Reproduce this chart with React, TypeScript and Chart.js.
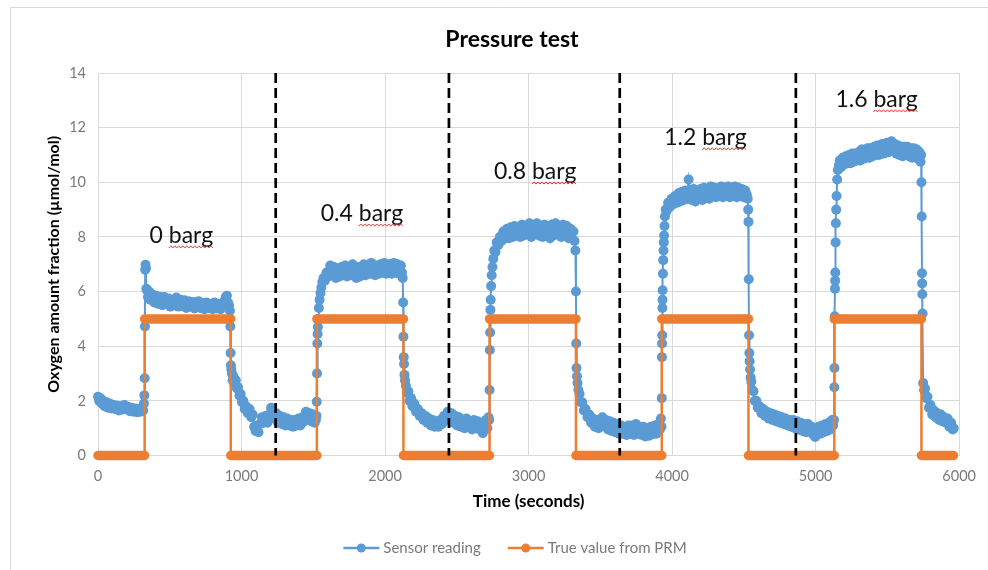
import React, { useEffect, useRef } from 'react';
import { Chart, registerables } from 'chart.js';

Chart.register(...registerables);

const chartTitle = 'Pressure test';
const xAxisTitle = 'Time (seconds)';
const yAxisTitle = 'Oxygen amount fraction (µmol/mol)';
const seriesNames = ['Sensor reading', 'True value from PRM'];
const xMin = 0, xMax = 6000, xStep = 1000;
const yMin = 0, yMax = 14, yStep = 2;

// True value from PRM (step corners: time, value)
const prmTimes = [0, 325, 325, 925, 925, 1525, 1525, 2128, 2128, 2728, 2728, 3330, 3330, 3928, 3928, 4532, 4532, 5130, 5130, 5737, 5737, 5960];
const prmValues = [0, 0, 5, 5, 0, 0, 5, 5, 0, 0, 5, 5, 0, 0, 5, 5, 0, 0, 5, 5, 0, 0];

// Pressure-change markers (time, seconds)
const dividerTimes = [1238, 2445, 3635, 4862];

// Annotations: text, time at left edge, level at baseline
const annotationTexts = ['0 barg', '0.4 barg', '0.8 barg', '1.2 barg', '1.6 barg'];
const annotationTimes = [359, 1552, 2759, 3945, 5138];
const annotationLevels = [7.78, 8.58, 10.12, 11.37, 12.76];

// Sensor reading [time, value]
const sensorLow0 = [[0,2.15],[8,2.0],[16,2.1],[26,1.9],[36,2.0],[46,1.8],[58,1.95],[70,1.75],[82,1.9],[95,1.72],[108,1.85],[120,1.7],[132,1.82],[145,1.65],[158,1.8],[170,1.68],[183,1.85],[196,1.7],[209,1.78],[222,1.62],[235,1.75],[248,1.6],[261,1.72],[274,1.58],[287,1.7],[298,1.6],[308,1.75],[315,1.65],[320,1.9],[323,2.2],[325,2.83]];
const sensorHigh0 = [[327,4.72],[329,6.8],[331,6.98],[334,6.85],[337,6.1],[341,6.05],[348,5.8],[356,6.0],[365,5.7],[378,5.9],[392,5.6],[406,5.85],[420,5.55],[434,5.8],[448,5.5],[462,5.8],[476,5.55],[490,5.75],[504,5.45],[518,5.7],[532,5.5],[546,5.78],[560,5.45],[574,5.7],[588,5.48],[602,5.68],[616,5.4],[630,5.65],[644,5.45],[658,5.62],[672,5.38],[686,5.6],[700,5.65],[714,5.4],[728,5.58],[742,5.35],[756,5.6],[770,5.4],[784,5.55],[798,5.35],[812,5.6],[826,5.38],[840,5.55],[854,5.35],[868,5.5],[880,5.65],[890,5.8],[898,5.85],[906,5.6],[913,5.5],[919,5.3]];
const sensorLow1 = [[922,4.72],[924,3.75],[926,3.3],[929,3.15],[933,3.0],[938,2.75],[944,2.9],[952,2.6],[960,2.75],[968,2.45],[976,2.5],[985,2.2],[994,2.25],[1003,1.95],[1012,2.0],[1022,1.7],[1032,1.8],[1044,1.55],[1056,1.7],[1068,1.4],[1078,1.5],[1088,1.05],[1098,0.9],[1108,1.1],[1118,0.85],[1130,1.15],[1142,1.4],[1155,1.2],[1168,1.45],[1180,1.2],[1193,1.5],[1206,1.75],[1215,1.55],[1228,1.35],[1241,1.55],[1254,1.2],[1267,1.45],[1280,1.15],[1293,1.4],[1306,1.1],[1319,1.35],[1332,1.1],[1345,1.3],[1358,1.05],[1371,1.3],[1384,1.1],[1397,1.35],[1410,1.1],[1423,1.4],[1436,1.25],[1449,1.6],[1462,1.3],[1475,1.55],[1488,1.25],[1500,1.5],[1510,1.2],[1518,1.3],[1522,1.45]];
const sensorHigh1 = [[1524,1.97],[1526,3.0],[1528,4.1],[1530,4.45],[1532,4.7],[1535,5.0],[1539,5.4],[1544,5.7],[1550,5.95],[1556,6.15],[1563,6.35],[1571,6.5],[1580,6.4],[1592,6.7],[1605,6.55],[1618,6.95],[1631,6.6],[1644,6.9],[1657,6.5],[1670,6.85],[1683,6.55],[1696,6.9],[1709,6.6],[1722,6.95],[1735,6.55],[1748,6.85],[1761,6.6],[1774,7.0],[1787,6.65],[1800,6.5],[1813,6.9],[1826,6.55],[1839,6.85],[1852,7.0],[1865,6.6],[1878,6.95],[1891,6.65],[1904,7.05],[1917,6.7],[1930,6.6],[1943,6.95],[1956,6.65],[1969,7.0],[1982,6.7],[1995,7.05],[2008,6.65],[2021,6.95],[2034,7.0],[2047,6.65],[2060,7.05],[2073,6.7],[2086,7.0],[2099,6.65],[2110,6.95],[2118,6.7],[2123,6.5],[2126,5.6]];
const sensorLow2 = [[2128,4.35],[2130,3.6],[2132,3.35],[2135,2.95],[2139,2.75],[2145,2.55],[2153,2.3],[2162,2.35],[2171,2.0],[2181,2.1],[2191,1.8],[2203,1.9],[2216,1.6],[2229,1.7],[2242,1.45],[2255,1.55],[2268,1.3],[2281,1.45],[2294,1.2],[2307,1.35],[2320,1.1],[2333,1.3],[2346,1.05],[2359,1.25],[2372,1.05],[2385,1.3],[2398,1.15],[2411,1.45],[2424,1.3],[2437,1.6],[2450,1.4],[2463,1.55],[2476,1.2],[2489,1.45],[2502,1.1],[2515,1.4],[2528,1.05],[2541,1.3],[2554,1.0],[2567,1.35],[2580,1.05],[2593,1.25],[2606,0.95],[2619,1.3],[2632,1.0],[2645,1.25],[2658,0.95],[2670,1.1],[2681,0.82],[2692,1.05],[2703,1.3],[2713,1.0],[2721,1.4],[2725,1.3]];
const sensorHigh2 = [[2728,2.4],[2730,3.86],[2732,4.5],[2734,5.33],[2736,5.7],[2739,6.2],[2743,6.6],[2748,6.9],[2754,7.2],[2761,7.5],[2769,7.45],[2778,7.8],[2788,7.7],[2799,8.0],[2811,7.85],[2824,8.2],[2837,7.95],[2850,8.3],[2863,7.95],[2876,8.35],[2889,8.0],[2902,8.4],[2915,8.05],[2928,8.35],[2941,8.0],[2954,8.45],[2967,8.05],[2980,8.4],[2993,8.1],[3006,8.5],[3019,8.0],[3032,8.4],[3045,8.1],[3058,8.5],[3071,8.05],[3084,8.35],[3097,8.0],[3110,8.45],[3123,8.1],[3136,8.4],[3149,7.95],[3162,8.45],[3175,8.05],[3188,8.5],[3201,8.1],[3214,8.4],[3227,8.0],[3240,8.45],[3253,8.05],[3266,8.4],[3279,7.95],[3292,8.3],[3303,7.95],[3313,8.2],[3320,7.85],[3326,7.5]];
const sensorLow3 = [[3330,6.0],[3332,4.1],[3334,3.2],[3337,2.9],[3341,2.65],[3347,2.4],[3355,2.25],[3364,1.95],[3374,1.95],[3385,1.65],[3397,1.7],[3410,1.4],[3423,1.5],[3436,1.2],[3449,1.35],[3462,1.05],[3475,1.3],[3488,1.0],[3501,1.25],[3514,1.4],[3527,1.1],[3540,1.3],[3553,0.95],[3566,1.25],[3579,0.9],[3592,1.2],[3605,0.85],[3618,1.15],[3631,0.8],[3644,1.1],[3657,0.8],[3670,1.05],[3683,0.75],[3696,1.1],[3709,0.8],[3722,1.1],[3735,0.75],[3748,1.15],[3761,0.85],[3774,1.05],[3787,0.75],[3800,1.05],[3813,0.7],[3826,1.0],[3839,0.72],[3852,1.05],[3865,0.78],[3878,1.1],[3891,0.8],[3904,1.15],[3914,0.95],[3922,1.35],[3926,1.05]];
const sensorHigh3 = [[3928,2.1],[3929,3.6],[3930,4.1],[3931,4.4],[3932,5.4],[3933,5.7],[3934,6.05],[3936,6.65],[3938,7.15],[3940,7.5],[3942,7.8],[3944,8.05],[3947,8.4],[3950,8.75],[3955,9.0],[3962,8.95],[3972,9.25],[3984,9.1],[3996,9.4],[4008,9.2],[4020,9.5],[4032,9.25],[4044,9.6],[4056,9.3],[4068,9.65],[4080,9.35],[4092,9.7],[4104,9.4],[4115,10.1],[4126,9.7],[4138,9.35],[4150,9.75],[4162,9.3],[4174,9.65],[4186,9.4],[4198,9.75],[4210,9.35],[4222,9.8],[4234,9.45],[4246,9.75],[4258,9.4],[4270,9.85],[4282,9.5],[4294,9.8],[4306,9.45],[4318,9.75],[4330,9.5],[4342,9.85],[4354,9.45],[4366,9.8],[4378,9.5],[4390,9.85],[4402,9.45],[4414,9.8],[4426,9.5],[4438,9.85],[4450,9.45],[4462,9.8],[4474,9.5],[4486,9.75],[4498,9.45],[4510,9.7],[4520,9.55],[4527,9.4],[4530,9.0]];
const sensorLow4 = [[4532,8.55],[4534,6.45],[4536,4.4],[4538,3.75],[4540,3.45],[4543,3.15],[4547,2.85],[4552,2.7],[4559,2.4],[4567,2.35],[4576,2.0],[4586,2.0],[4597,1.75],[4609,1.8],[4622,1.55],[4635,1.7],[4648,1.45],[4661,1.6],[4674,1.35],[4687,1.55],[4700,1.3],[4713,1.5],[4726,1.25],[4739,1.45],[4752,1.2],[4765,1.4],[4778,1.15],[4791,1.35],[4804,1.1],[4817,1.3],[4830,1.05],[4843,1.3],[4856,1.0],[4869,1.25],[4882,0.95],[4895,1.2],[4908,0.9],[4921,1.15],[4934,0.85],[4947,1.15],[4960,0.85],[4973,1.05],[4986,0.75],[4997,0.68],[5008,0.85],[5020,1.05],[5032,0.8],[5044,1.1],[5056,0.85],[5068,1.15],[5080,0.9],[5092,1.2],[5104,0.95],[5114,1.3],[5122,1.1],[5128,1.3]];
const sensorHigh4 = [[5130,2.5],[5131,3.2],[5133,5.1],[5135,6.1],[5136,6.4],[5137,6.7],[5139,7.8],[5141,8.5],[5143,9.0],[5146,9.5],[5150,10.1],[5155,10.45],[5161,10.6],[5168,10.8],[5177,10.55],[5188,10.9],[5199,10.65],[5210,10.95],[5221,10.7],[5232,11.0],[5243,10.7],[5254,11.05],[5265,10.75],[5276,11.05],[5287,10.8],[5298,11.1],[5309,10.8],[5320,11.2],[5331,10.85],[5342,11.2],[5353,10.9],[5364,11.25],[5375,10.9],[5386,11.25],[5397,10.95],[5408,11.3],[5419,11.0],[5430,11.35],[5441,11.0],[5452,11.3],[5463,11.4],[5474,11.05],[5485,11.35],[5496,11.45],[5507,11.1],[5518,11.4],[5529,11.5],[5540,11.15],[5551,11.4],[5562,11.05],[5573,11.35],[5584,11.0],[5595,11.3],[5606,10.95],[5617,11.3],[5628,11.0],[5639,11.3],[5650,10.95],[5661,11.25],[5672,10.9],[5683,11.25],[5694,10.95],[5705,11.2],[5715,10.85],[5724,11.1],[5731,10.75],[5735,11.0]];
const sensorLow5 = [[5737,10.0],[5739,8.75],[5741,6.67],[5742,6.3],[5743,5.9],[5745,5.2],[5749,2.65],[5755,2.4],[5762,2.45],[5770,2.1],[5779,2.15],[5789,1.75],[5800,1.85],[5812,1.5],[5824,1.65],[5836,1.4],[5848,1.55],[5860,1.3],[5872,1.5],[5884,1.25],[5896,1.4],[5908,1.2],[5920,1.35],[5932,1.05],[5944,1.2],[5955,0.95],[5962,1.0]];

const sensorPhases = [sensorLow0, sensorHigh0, sensorLow1, sensorHigh1, sensorLow2, sensorHigh2, sensorLow3, sensorHigh3, sensorLow4, sensorHigh4, sensorLow5];

const BLUE = '#5B9BD5';
const ORANGE = '#ED7D31';
const FONT = 'Lato, "Open Sans", sans-serif';

const decorPlugin = {
  id: 'decor',
  beforeDraw(chart: any) {
    const ctx = chart.ctx;
    ctx.save();
    ctx.fillStyle = '#ffffff';
    ctx.fillRect(0, 0, chart.width, chart.height);
    ctx.strokeStyle = '#d9d9d9';
    ctx.lineWidth = 1;
    ctx.beginPath();
    ctx.moveTo(10.5, chart.height);
    ctx.lineTo(10.5, 7.5);
    ctx.lineTo(chart.width, 7.5);
    ctx.stroke();
    ctx.restore();
  },
  afterDraw(chart: any) {
    const ctx = chart.ctx;
    const xs = chart.scales.x;
    const ys = chart.scales.y;
    ctx.save();
    // Title
    ctx.font = `bold 23px ${FONT}`;
    ctx.fillStyle = '#000';
    ctx.textAlign = 'center';
    ctx.textBaseline = 'middle';
    ctx.fillText(chartTitle, 512, 40);

    // Annotations
    ctx.font = `23px ${FONT}`;
    ctx.textAlign = 'left';
    ctx.textBaseline = 'alphabetic';
    annotationTexts.forEach((text, i) => {
      const px = xs.getPixelForValue(annotationTimes[i]);
      const py = ys.getPixelForValue(annotationLevels[i]);
      ctx.fillStyle = '#111';
      ctx.fillText(text, px, py);
      const idx = text.indexOf('barg');
      const sx = px + ctx.measureText(text.slice(0, idx)).width;
      const ex = px + ctx.measureText(text).width;
      ctx.strokeStyle = '#e23a2e';
      ctx.lineWidth = 1;
      ctx.beginPath();
      let k = 0;
      for (let qx = sx; qx <= ex; qx += 2, k++) {
        const qy = py + 4 + (k % 2 ? -1.1 : 1.1);
        if (k === 0) ctx.moveTo(qx, qy); else ctx.lineTo(qx, qy);
      }
      ctx.stroke();
    });

    // Legend
    ctx.font = `15px ${FONT}`;
    ctx.textBaseline = 'middle';
    const colors = [BLUE, ORANGE];
    const widths = seriesNames.map((n) => ctx.measureText(n).width);
    const lineLen = 36, gapText = 4, gapItem = 27;
    const total = widths.reduce((a, w) => a + lineLen + gapText + w, 0) + gapItem;
    let cx = 515 - total / 2;
    const ly = 548;
    seriesNames.forEach((name, i) => {
      ctx.strokeStyle = colors[i];
      ctx.lineWidth = 2.5;
      ctx.beginPath();
      ctx.moveTo(cx, ly);
      ctx.lineTo(cx + lineLen, ly);
      ctx.stroke();
      ctx.fillStyle = colors[i];
      ctx.beginPath();
      ctx.arc(cx + lineLen / 2, ly, 4.5, 0, Math.PI * 2);
      ctx.fill();
      ctx.fillStyle = '#7a7a7a';
      ctx.fillText(name, cx + lineLen + gapText, ly);
      cx += lineLen + gapText + widths[i] + gapItem;
    });
    ctx.restore();
  },
};

export default function App() {
  const canvasRef = useRef<HTMLCanvasElement | null>(null);

  useEffect(() => {
    const canvas = canvasRef.current;
    if (!canvas) return;
    const sensorData = sensorPhases.flat().map(([x, y]) => ({ x, y }));
    const prmData = prmTimes.map((t, i) => ({ x: t, y: prmValues[i] }));
    const dividerSets = dividerTimes.map((t) => ({
      label: 'divider',
      data: [{ x: t, y: yMax }, { x: t, y: yMin }],
      showLine: true,
      borderColor: '#000',
      borderWidth: 2.7,
      borderDash: [10, 5],
      pointRadius: 0,
      order: 1,
      clip: false,
    }));

    const chart = new Chart(canvas, {
      type: 'scatter',
      data: {
        datasets: [
          {
            label: seriesNames[0],
            data: sensorData,
            showLine: true,
            borderColor: BLUE,
            backgroundColor: BLUE,
            borderWidth: 2,
            pointRadius: 5,
            pointBorderWidth: 0,
            pointBackgroundColor: BLUE,
            order: 3,
            clip: false,
          },
          {
            label: seriesNames[1],
            data: prmData,
            showLine: true,
            borderColor: ORANGE,
            backgroundColor: ORANGE,
            borderWidth: 2.5,
            borderCapStyle: 'round',
            pointRadius: 0,
            order: 2,
            clip: false,
            segment: {
              borderWidth: (c: any) => (c.p0.parsed.x === c.p1.parsed.x ? 2.5 : 9.5),
            },
          },
          ...dividerSets,
        ] as any,
      },
      options: {
        responsive: false,
        animation: false,
        events: [],
        layout: { padding: { left: 44, top: 73, right: 20, bottom: 57.8 } },
        plugins: {
          legend: { display: false },
          title: { display: false },
          tooltip: { enabled: false },
        },
        scales: {
          x: {
            type: 'linear',
            min: xMin,
            max: xMax,
            border: { display: false },
            grid: { color: '#d9d9d9', lineWidth: 1, drawTicks: false },
            ticks: {
              stepSize: xStep,
              color: '#7a7a7a',
              font: { family: FONT, size: 14.5 },
              padding: 12,
              maxRotation: 0,
              callback: (v: any) => String(v),
            },
            title: {
              display: true,
              text: xAxisTitle,
              color: '#000',
              font: { family: FONT, size: 17, weight: 'bold' },
              padding: 0,
            },
            afterFit: (s: any) => { s.height = 56.7; },
          },
          y: {
            type: 'linear',
            min: yMin,
            max: yMax,
            border: { display: false },
            grid: { color: '#d9d9d9', lineWidth: 1, drawTicks: false },
            ticks: {
              stepSize: yStep,
              color: '#7a7a7a',
              font: { family: FONT, size: 14.5 },
              padding: 12,
              callback: (v: any) => String(v),
            },
            title: {
              display: true,
              text: yAxisTitle,
              color: '#000',
              font: { family: FONT, size: 16, weight: 'bold' },
              padding: 0,
            },
            afterFit: (s: any) => { s.width = 54; },
          },
        },
      } as any,
      plugins: [decorPlugin],
    });
    return () => chart.destroy();
  }, []);

  return (
    <div style={{ position: 'absolute', left: 0, top: 0, width: 988, height: 570 }}>
      <canvas ref={canvasRef} width={988} height={570} style={{ display: 'block' }} />
    </div>
  );
}
